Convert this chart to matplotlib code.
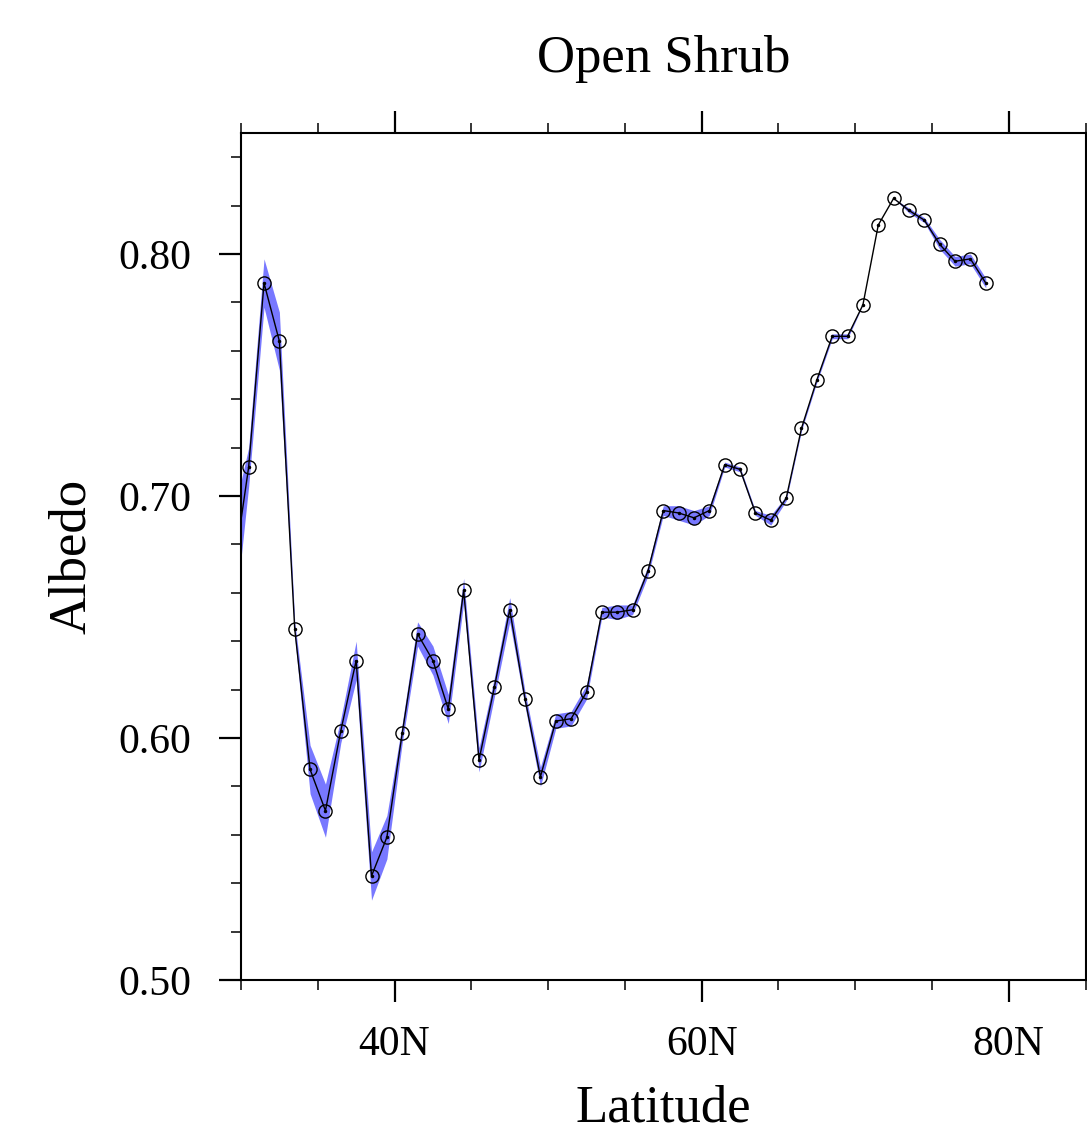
import matplotlib
matplotlib.use("Agg")
import matplotlib.pyplot as plt
from matplotlib.ticker import MultipleLocator, FixedLocator
import numpy as np

# latitude bins (deg N) and mean albedo
lat = [29.5, 30.5, 31.5, 32.5, 33.5, 34.5, 35.5, 36.5, 37.5, 38.5,
       39.5, 40.5, 41.5, 42.5, 43.5, 44.5, 45.5, 46.5, 47.5, 48.5,
       49.5, 50.5, 51.5, 52.5, 53.5, 54.5, 55.5, 56.5, 57.5, 58.5,
       59.5, 60.5, 61.5, 62.5, 63.5, 64.5, 65.5, 66.5, 67.5, 68.5,
       69.5, 70.5, 71.5, 72.5, 73.5, 74.5, 75.5, 76.5, 77.5, 78.5]
albedo = [0.668, 0.712, 0.788, 0.764, 0.645, 0.587, 0.570, 0.603, 0.632, 0.543,
          0.559, 0.602, 0.643, 0.632, 0.612, 0.661, 0.591, 0.621, 0.653, 0.616,
          0.584, 0.607, 0.608, 0.619, 0.652, 0.652, 0.653, 0.669, 0.694, 0.693,
          0.691, 0.694, 0.713, 0.711, 0.693, 0.690, 0.699, 0.728, 0.748, 0.766,
          0.766, 0.779, 0.812, 0.823, 0.818, 0.814, 0.804, 0.797, 0.798, 0.788]
# half width of the shaded spread
spread = [0.024, 0.008, 0.010, 0.012, 0.003, 0.010, 0.011, 0.005, 0.008, 0.010,
          0.009, 0.004, 0.005, 0.006, 0.006, 0.005, 0.005, 0.004, 0.005, 0.003,
          0.004, 0.003, 0.003, 0.003, 0.002, 0.003, 0.002, 0.002, 0.002, 0.003,
          0.003, 0.002, 0.001, 0.001, 0.001, 0.002, 0.001, 0.001, 0.001, 0.001,
          0.001, 0.000, 0.000, 0.000, 0.001, 0.001, 0.002, 0.002, 0.002, 0.002]

xticks = [40, 60, 80]
xticklabels = ["40N", "60N", "80N"]
yticks = [0.50, 0.60, 0.70, 0.80]

plt.rcParams['font.family'] = ['Liberation Serif', 'DejaVu Serif']

fig = plt.figure(figsize=(10.87, 11.33), dpi=100)
ax = fig.add_axes([0.2217, 0.135, 0.777, 0.7476])

a = np.array(albedo)
s = np.array(spread)
ax.fill_between(lat, a - s, a + s, color='#7878ff', lw=0, zorder=1)
ax.plot(lat, albedo, color='black', lw=1.0, zorder=2)
ax.plot(lat, albedo, ls='none', marker='o', ms=9.5, mfc='none', mec='black',
        mew=1.0, zorder=3)
ax.plot(lat, albedo, ls='none', marker='o', ms=1.5, color='black', zorder=3)

ax.set_xlim(30, 85)
ax.set_ylim(0.50, 0.85)

ax.xaxis.set_major_locator(FixedLocator(xticks))
ax.set_xticklabels(xticklabels)
ax.xaxis.set_minor_locator(MultipleLocator(5))
ax.yaxis.set_major_locator(FixedLocator(yticks))
ax.set_yticklabels([f"{v:.2f}" for v in yticks])
ax.yaxis.set_minor_locator(MultipleLocator(0.02))

ax.tick_params(which='both', direction='out', top=True, right=False,
               labeltop=False, width=1.5, labelsize=30)
ax.tick_params(which='major', length=15.5, width=1.6)
ax.tick_params(which='minor', length=7.5, width=1.1)
ax.tick_params(axis='y', which='major', pad=20)
ax.tick_params(axis='x', which='major', pad=17)

for sp in ax.spines.values():
    sp.set_linewidth(1.5)

ax.text(0.5, 1.072, "Open Shrub", transform=ax.transAxes, ha='center',
        va='baseline', fontsize=38)
ax.text(0.5, -0.1665, "Latitude", transform=ax.transAxes, ha='center',
        va='baseline', fontsize=38)
ax.text(-0.200, 0.5, "Albedo", transform=ax.transAxes, ha='center',
        va='center', rotation=90, fontsize=38)

fig.savefig("out.png", dpi=100)
